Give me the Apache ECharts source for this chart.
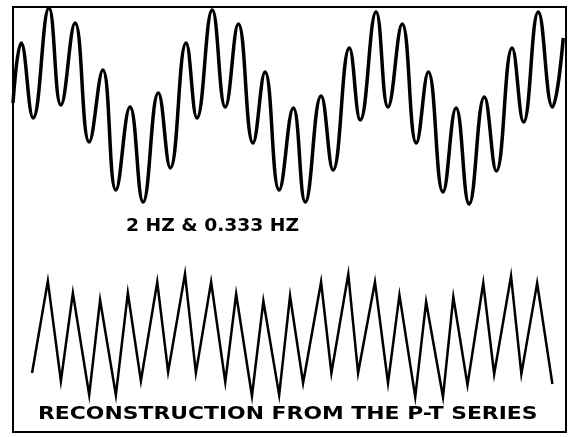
<!DOCTYPE html>
<html>
<head>
<meta charset="utf-8">
<script src="https://cdn.jsdelivr.net/npm/echarts@6/dist/echarts.min.js"></script>
<style>
  html,body{margin:0;padding:0;background:#fff;}
  #chart{width:576px;height:437px;}
</style>
</head>
<body>
<div id="chart"></div>
<script>
  // 上图: 2 Hz 与 0.333 Hz 叠加 (极值点, 时间单位秒)
  var topTime=[0.00,0.15,0.37,0.66,0.88,1.14,1.40,1.65,1.89,2.15,2.39,2.67,2.89,3.18,3.38,3.66,3.90,4.14,4.41,4.63,4.89,
    5.15,5.37,5.66,5.88,6.18,6.38,6.67,6.89,7.15,7.41,7.63,7.90,8.14,8.38,8.66,8.88,9.17,9.38,9.65,9.91,10.11];
  var topAmp=[0.06,1.26,-0.24,1.96,0.02,1.66,-0.72,0.72,-1.68,-0.02,-1.92,0.26,-1.24,1.26,-0.24,1.92,-0.02,1.64,-0.74,0.68,-1.68,
    -0.04,-1.92,0.20,-1.28,1.16,-0.28,1.88,-0.02,1.64,-0.74,0.68,-1.72,-0.04,-1.96,0.18,-1.30,1.16,-0.32,1.88,-0.02,1.36];
  // 下图: P-T 序列重构 (峰谷点)
  var bottomTime=[0.35,0.64,0.88,1.10,1.40,1.60,1.89,2.11,2.35,2.65,2.85,3.16,3.36,3.64,3.90,4.10,4.39,4.60,4.89,5.09,
    5.33,5.66,5.85,6.16,6.34,6.65,6.89,7.10,7.39,7.59,7.90,8.09,8.35,8.64,8.84,9.15,9.34,9.63,9.91];
  var bottomAmp=[-0.76,1.08,-0.92,0.84,-1.20,0.70,-1.20,0.84,-0.92,1.06,-0.74,1.22,-0.76,1.06,-0.94,0.82,-1.22,0.68,-1.20,0.78,
    -0.96,1.06,-0.76,1.22,-0.76,1.06,-0.96,0.80,-1.24,0.66,-1.24,0.76,-1.00,1.04,-0.78,1.18,-0.78,1.04,-0.98];
  var labelTop="2 HZ & 0.333 HZ";
  var labelBottom="RECONSTRUCTION FROM THE P-T SERIES";

  var zip=function(xs,ys){
    var out=[];
    xs.forEach(function(x,i){
      out.push([x,ys[i]]);
    })
    return out;
  }

  var chart=echarts.init(document.getElementById("chart"),null,{renderer:'canvas'});
  var hiddenX={type:'value',min:0,max:10.16,show:false};
  var hiddenY={type:'value',min:-2,max:2,show:false};
  chart.setOption({
    animation:false,
    backgroundColor:'#fff',
    grid:[
      {left:13,width:553,top:6,height:200},
      {left:13,width:553,top:235,height:200}
    ],
    xAxis:[
      Object.assign({gridIndex:0},hiddenX),
      Object.assign({gridIndex:1},hiddenX)
    ],
    yAxis:[
      Object.assign({gridIndex:0},hiddenY),
      Object.assign({gridIndex:1},hiddenY)
    ],
    series:[
      {
        type:'line',
        xAxisIndex:0,
        yAxisIndex:0,
        data:zip(topTime,topAmp),
        smooth:0.45,
        symbol:'none',
        clip:false,
        lineStyle:{color:'#000',width:3.5}
      },
      {
        type:'line',
        xAxisIndex:1,
        yAxisIndex:1,
        data:zip(bottomTime,bottomAmp),
        symbol:'none',
        clip:false,
        lineStyle:{color:'#000',width:2.5,join:'miter'}
      }
    ],
    graphic:[
      {
        type:'rect',
        shape:{x:13,y:7,width:553,height:425},
        style:{fill:'none',stroke:'#000',lineWidth:2}
      },
      {
        type:'text',
        x:126,
        y:226,
        scaleX:1.04,
        style:{text:labelTop,fill:'#000',font:'bold 18px "DejaVu Sans"',align:'left',verticalAlign:'middle'}
      },
      {
        type:'text',
        x:38,
        y:414,
        scaleX:1.215,
        style:{text:labelBottom,fill:'#000',font:'bold 18px "DejaVu Sans"',align:'left',verticalAlign:'middle'}
      }
    ]
  });
</script>
</body>
</html>
